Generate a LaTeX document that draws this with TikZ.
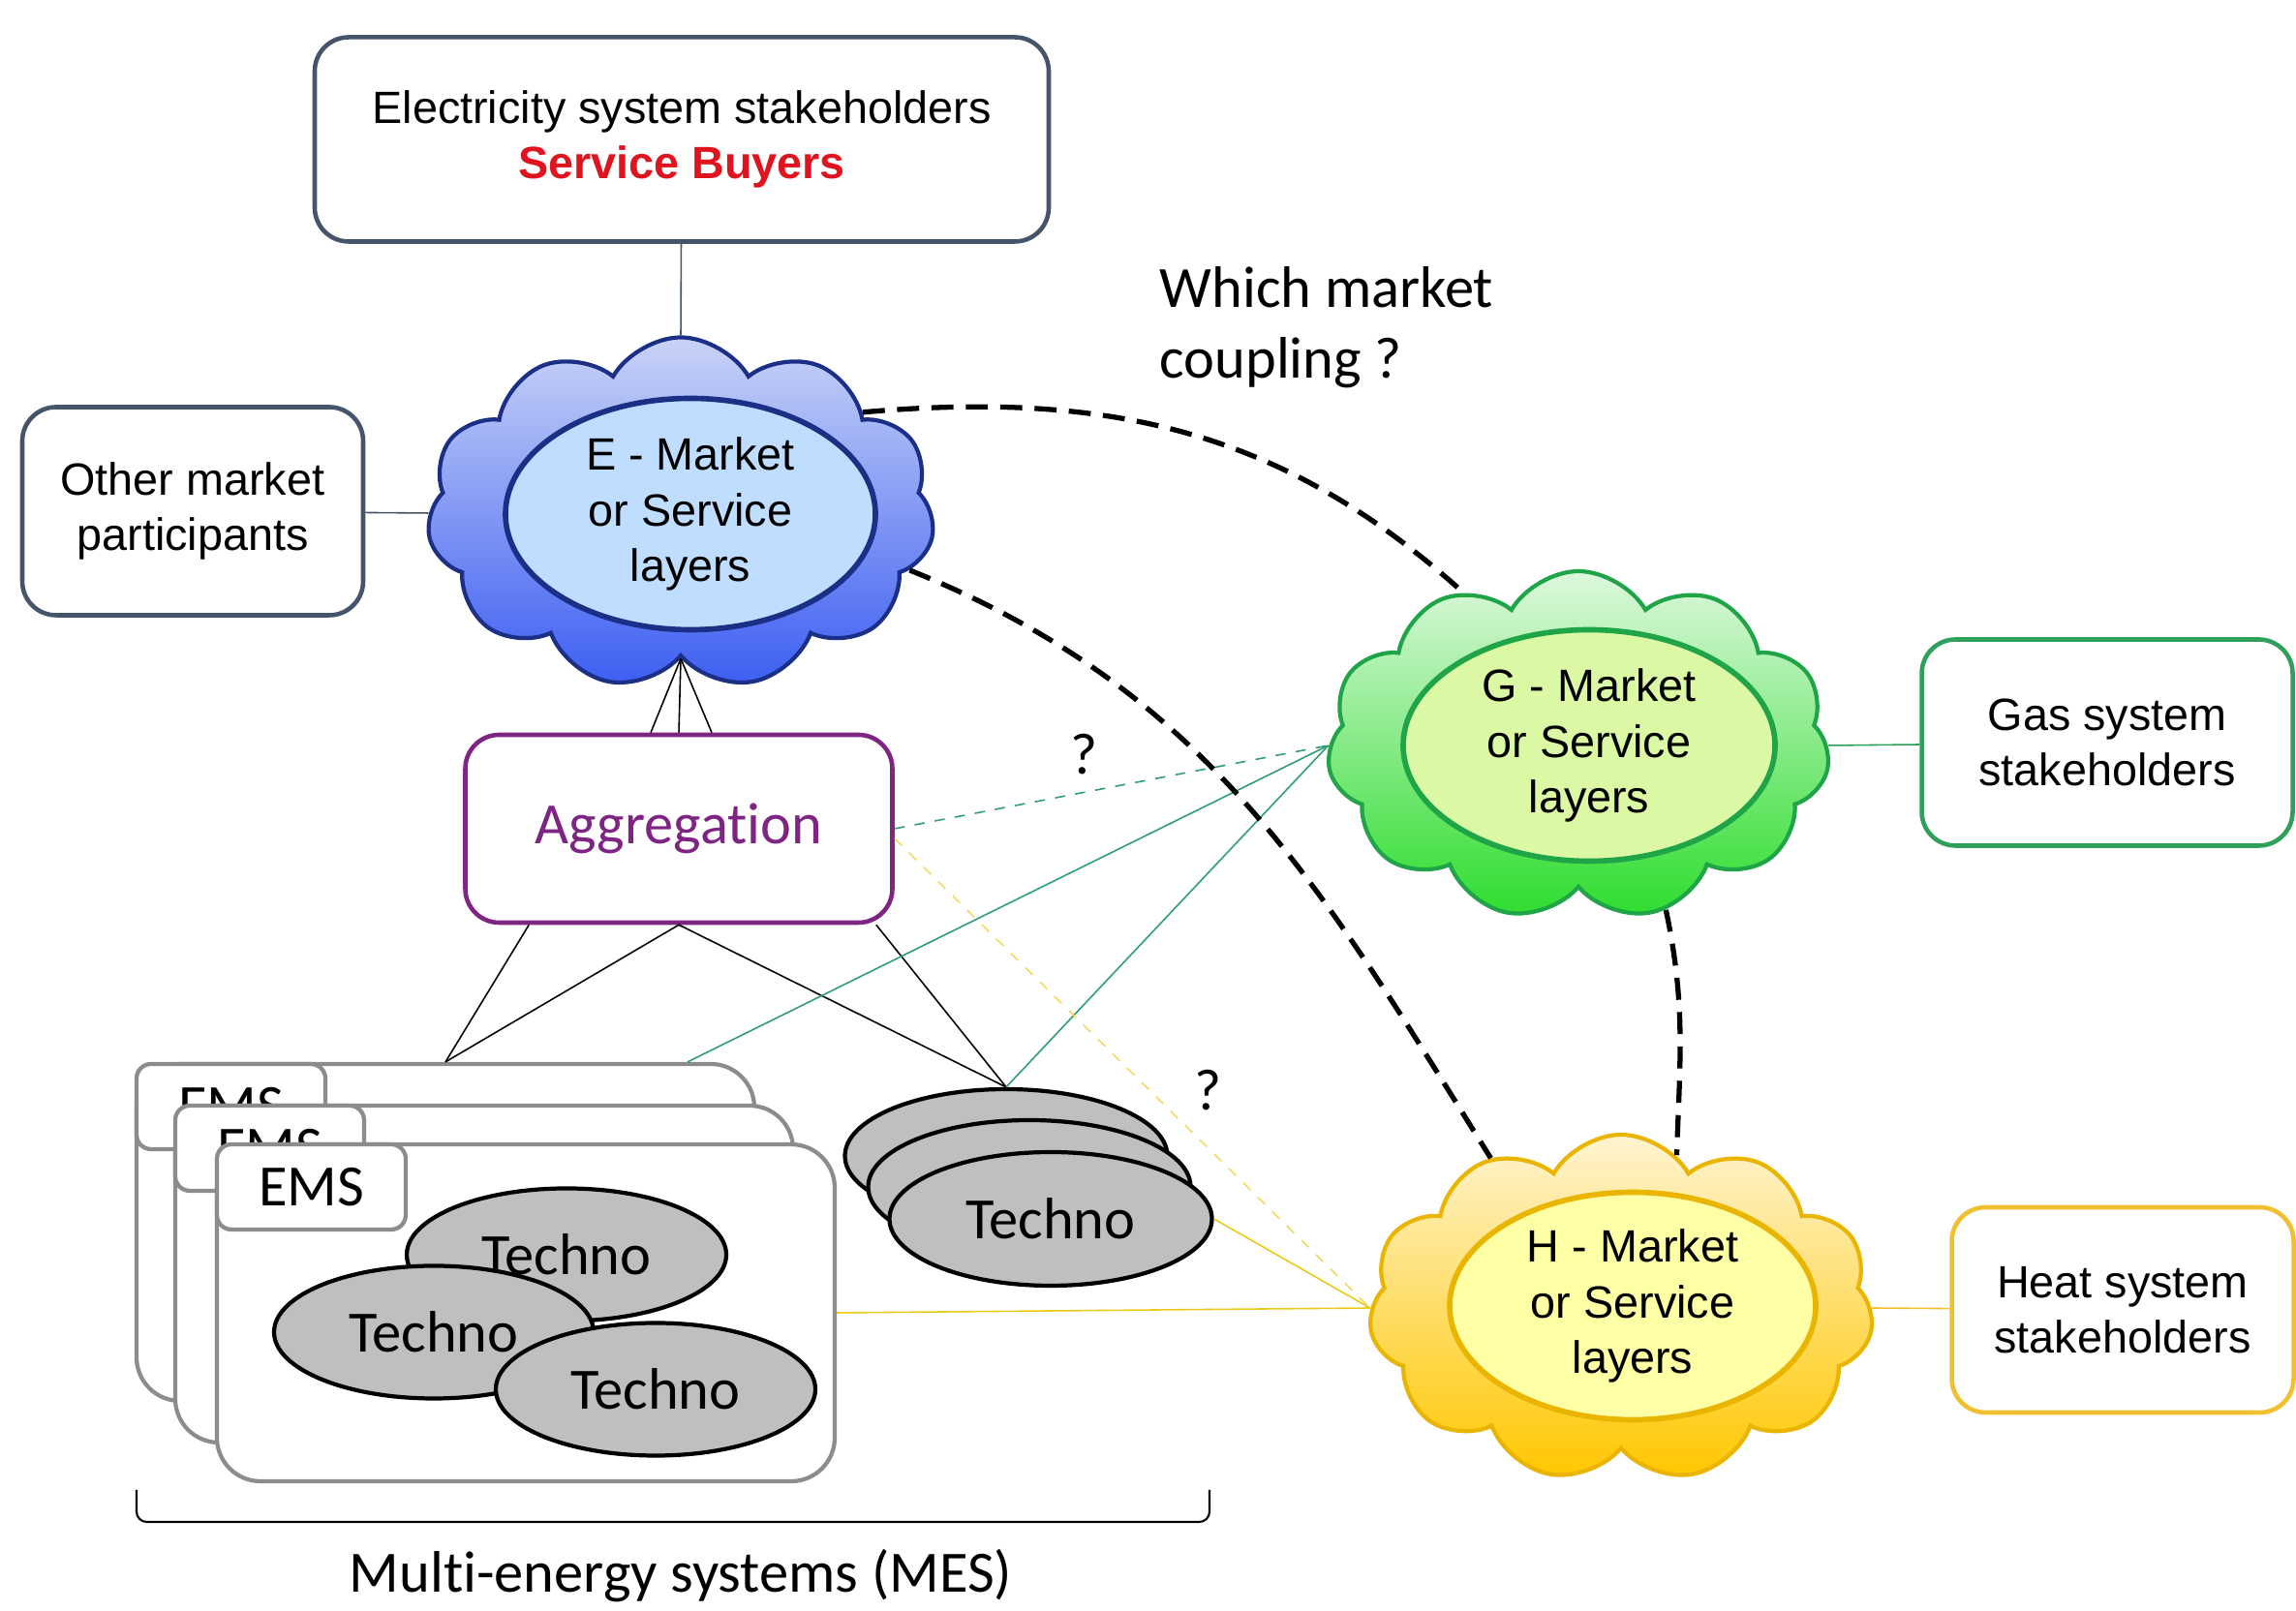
\documentclass[tikz,border=0pt]{standalone}
\usepackage{fontspec}
\setmainfont{Liberation Sans}
\newfontfamily\calibri[Ligatures=NoCommon]{Carlito}
\usetikzlibrary{shapes.geometric,shapes.symbols}

\definecolor{slate}{HTML}{44546A}
\definecolor{aggpurple}{HTML}{7E2483}
\definecolor{gasgreen}{HTML}{2EA05A}
\definecolor{heatgold}{HTML}{F0C030}
\definecolor{buyred}{HTML}{E0141E}
\definecolor{etop}{HTML}{C9D3F7}
\definecolor{ebot}{HTML}{3C5EF2}
\definecolor{eline}{HTML}{1A2F85}
\definecolor{efill}{HTML}{BFDDFF}
\definecolor{gtop}{HTML}{DDF8DD}
\definecolor{gbot}{HTML}{2EDD2E}
\definecolor{gline}{HTML}{1FA448}
\definecolor{gfill}{HTML}{DBF8A4}
\definecolor{htop}{HTML}{FFF4D0}
\definecolor{hbot}{HTML}{FFC700}
\definecolor{hline}{HTML}{E9B500}
\definecolor{hfill}{HTML}{FFFFA6}
\definecolor{emsgray}{HTML}{8C8C8C}
\definecolor{technogray}{HTML}{BFBFBF}
\definecolor{gaslink}{HTML}{2E9E72}
\definecolor{heatlink}{HTML}{EBC91A}

\newcommand{\boxfont}{\fontsize{13.3}{16.3}\selectfont}
\newcommand{\calfont}{\calibri\fontsize{17.2}{20.7}\selectfont}

\tikzset{stakeholder/.style = {draw, rounded corners=0.35cm, line width=1.3pt, fill=white,
                               align=center, font=\boxfont}}
\tikzset{mcloud/.style = {cloud, cloud puffs=11, cloud puff arc=120, cloud ignores aspect,
                          line width=1.2pt}}
\tikzset{layer/.style = {ellipse, line width=1.6pt, align=center, font=\boxfont, inner sep=0pt}}
\tikzset{emsbox/.style = {draw=emsgray, rounded corners=0.45cm, line width=1.2pt, fill=white,
                          minimum width=6.38cm, minimum height=3.48cm}}
\tikzset{emslabel/.style = {draw=emsgray, rounded corners=0.15cm, line width=1.2pt, fill=white,
                            minimum width=1.95cm, minimum height=0.88cm, font=\calfont}}
\tikzset{techno/.style = {ellipse, draw, line width=1.2pt, fill=technogray,
                          minimum width=3.3cm, minimum height=1.37cm, font=\calfont}}
\tikzset{link/.style = {line width=0.45pt}}
\tikzset{coupling/.style = {line width=1.5pt, dash pattern=on 6.5pt off 3.6pt}}

\begin{document}
\begin{tikzpicture}
            \useasboundingbox (0,0) rectangle (23.71,16.64);

            % Stakeholders
            \node[stakeholder, draw=slate, minimum width=7.58cm, minimum height=2.11cm] (elec) at (7.04,15.20)
                {Electricity system stakeholders\\\textcolor{buyred}{\textbf{Service Buyers}}};
            \node[stakeholder, draw=slate, minimum width=3.52cm, minimum height=2.15cm] (other) at (1.99,11.36)
                {Other market\\participants};
            \node[stakeholder, draw=gasgreen, minimum width=3.83cm, minimum height=2.13cm] (gas) at (21.76,8.97)
                {Gas system\\stakeholders};
            \node[stakeholder, draw=heatgold, minimum width=3.53cm, minimum height=2.12cm] (heat) at (21.92,3.11)
                {Heat system\\stakeholders};

            % Market clouds
            \node[mcloud, draw=eline, top color=etop, bottom color=ebot,
                  minimum width=5.24cm, minimum height=3.63cm] (Ecloud) at (7.03,11.34) {};
            \node[layer, draw=eline, fill=efill, minimum width=3.82cm, minimum height=2.39cm] (Elayer) at (7.13,11.33)
                {E - Market\\or Service\\layers};
            \node[mcloud, draw=gline, top color=gtop, bottom color=gbot,
                  minimum width=5.19cm, minimum height=3.60cm] (Gcloud) at (16.30,8.94) {};
            \node[layer, draw=gline, fill=gfill, minimum width=3.84cm, minimum height=2.39cm] (Glayer) at (16.41,8.94)
                {G - Market\\or Service\\layers};
            \node[mcloud, draw=hline, top color=htop, bottom color=hbot,
                  minimum width=5.21cm, minimum height=3.58cm] (Hcloud) at (16.74,3.13) {};
            \node[layer, draw=hline, fill=hfill, minimum width=3.78cm, minimum height=2.35cm] (Hlayer) at (16.86,3.15)
                {H - Market\\or Service\\layers};

            % Aggregation
            \node[stakeholder, draw=aggpurple, text=aggpurple, font=\calfont,
                  minimum width=4.41cm, minimum height=1.94cm] (agg) at (7.01,8.08) {Aggregation};

            % MES stack
            \node[emsbox] (ems1) at (4.60,3.91) {};
            \node[emslabel, anchor=north west] (emsL1) at (ems1.north west) {EMS};
            \node[emsbox] (ems2) at (5.00,3.48) {};
            \node[emslabel, anchor=north west] (emsL2) at (ems2.north west) {EMS};
            \node[emsbox] (ems3) at (5.43,3.08) {};
            \node[emslabel, anchor=north west] (emsL3) at (ems3.north west) {EMS};
            \node[techno] (t1) at (5.85,3.68) {Techno};
            \node[techno] (t2) at (4.48,2.88) {Techno};
            \node[techno] (t3) at (6.77,2.29) {Techno};

            % Techno stack
            \node[techno, minimum width=3.33cm, minimum height=1.38cm] (tsA) at (10.39,4.70) {};
            \node[techno, minimum width=3.33cm, minimum height=1.38cm] (tsB) at (10.63,4.38) {};
            \node[techno, minimum width=3.33cm, minimum height=1.38cm] (tsC) at (10.85,4.05) {Techno};

            % Texts
            \node[font=\calfont, align=left, anchor=west, inner sep=0pt] (which) at (11.97,13.26)
                {Which market\\coupling ?};
            \node[font=\calfont, inner sep=0pt] (q1) at (11.19,8.85) {?};
            \node[font=\calfont, inner sep=0pt] (q2) at (12.47,5.38) {?};
            \node[font=\calfont, inner sep=0pt] (mes) at (7.03,0.36) {Multi-energy systems (MES)};
            \coordinate (braceL) at (1.41,1.25);
            \coordinate (braceR) at (12.49,1.25);
            \draw[line width=0.6pt, rounded corners=3pt] (braceL) -- (1.41,0.92) -- (12.49,0.92) -- (braceR);

            % Edges
            % stakeholders
            \draw[link, slate] (elec) -- (Ecloud.north);
            \draw[link, slate] (other) -- (Ecloud.west);
            \draw[link, gasgreen] (gas) -- (Gcloud.east);
            \draw[link, heatgold] (heat) -- (Hcloud.east);

            % aggregation
            \draw[link] ([xshift=-0.29cm]agg.north) -- (Ecloud.south);
            \draw[link] (agg.north) -- (Ecloud.south);
            \draw[link] ([xshift=0.34cm]agg.north) -- (Ecloud.south);
            \draw[link] ([xshift=0.68cm]agg.south west) -- (ems1.north);
            \draw[link] (agg.south) -- (ems1.north);
            \draw[link] (agg.south) -- (tsA.north);
            \draw[link] ([xshift=-0.19cm]agg.south east) -- (tsA.north);

            % gas
            \draw[link, gaslink, dashed] (agg.east) -- (Gcloud.180);
            \draw[link, gaslink] ([xshift=2.5cm]ems1.north) -- (Gcloud.180);
            \draw[link, gaslink] (tsA.north) -- (Gcloud.180);

            % heat
            \draw[link, heatlink!70, dashed] ([yshift=-1mm]agg.east) -- (Hcloud.180);
            \draw[link, heatlink] (tsC.east) -- (Hcloud.180);
            \draw[link, heatlink] (ems3.east) -- (Hcloud.180);

            % coupling
            \draw[coupling] (Ecloud.29) to[out=5, in=138] (Gcloud.127);
            \draw[coupling] (Ecloud.-14) to[out=-22, in=122] (Hcloud.131);
            \draw[coupling] (Gcloud.-62) to[out=-78, in=88] (Hcloud.70);
        \end{tikzpicture}
\end{document}
